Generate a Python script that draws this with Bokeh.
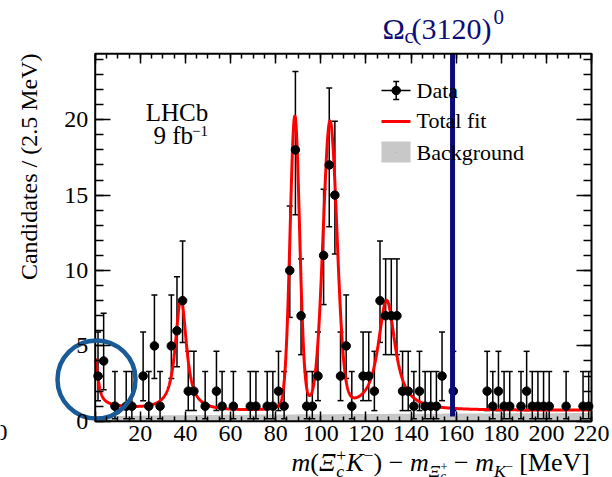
import numpy as np
from bokeh.plotting import figure
from bokeh.models import Range1d, LinearAxis, FixedTicker
from bokeh.core.properties import value
from bokeh.embed import file_html
from bokeh.resources import INLINE

# ---------------- data ----------------
bin_centers = [1.25, 3.75, 8.75, 13.75, 16.25, 21.25, 23.75, 26.25, 28.75, 33.75,
               36.25, 38.75, 41.25, 43.75, 48.75, 53.75, 56.25, 61.25, 68.75, 71.25,
               76.25, 78.75, 81.25, 83.75, 86.25, 88.75, 91.25, 93.75, 96.25, 98.75,
               101.25, 103.75, 106.25, 108.75, 111.25, 113.75, 118.75, 121.25, 123.75, 126.25,
               128.75, 131.25, 133.75, 136.25, 138.75, 141.25, 143.75, 146.25, 148.75, 151.25,
               153.75, 158.75, 173.75, 176.25, 178.75, 181.25, 183.75, 188.75, 191.25, 193.75,
               196.25, 198.75, 201.25, 208.75, 216.25, 218.75]
counts = [3, 4, 1, 1, 1, 3, 1, 5, 1, 5,
          6, 8, 2, 2, 1, 2, 1, 1, 1, 1,
          1, 1, 2, 1, 10, 18, 7, 1, 1, 3,
          11, 17, 15, 3, 5, 1, 3, 3, 2, 8,
          7, 7, 7, 2, 2, 1, 2, 1, 1, 1,
          3, 2, 2, 1, 2, 1, 1, 1, 2, 1,
          1, 1, 1, 1, 1, 1]

# error-bar ends per count value
err_count = [1, 2, 3, 4, 5, 6, 7, 8, 10, 11, 15, 17, 18]
err_low = [0.17, 0.71, 1.37, 2.09, 2.84, 3.62, 4.42, 5.23, 6.89, 7.74, 11.1, 12.9, 13.7]
err_high = [3.30, 4.64, 5.92, 7.16, 8.38, 9.58, 10.77, 11.95, 14.27, 15.38, 19.9, 22.1, 23.2]

# fit-model parameters
peak_mass = [0.0, 38.0, 88.5, 104.1, 129.2]
peak_height = [3.0, 7.4, 19.4, 19.0, 7.3]
peak_gamma = [1.5, 2.6, 0.25, 0.4, 4.2]
peak_sigma = [0.2, 0.8, 2.0, 2.9, 1.0]
bkg_pars = [0.30, 0.25]            # combinatorial background level
other_pars = [0.18, 0.60, 22.0]    # other fitted component
omega_mass = 158.4

x_ticks = [0, 20, 40, 60, 80, 100, 120, 140, 160, 180, 200, 220]
y_ticks = [0, 5, 10, 15, 20]

# ---------------- layout ----------------
W, H = 612, 477
FL, FR, FT, FB = 94.7, 591.0, 53.3, 420.8   # plot box in pixels
XMIN, XMAX = 0.0, 220.0
YMIN, YMAX = 0.0, 24.37
FONT = "Liberation Serif"
NAVY = "#0c0c78"
GRAY = "#c8c8c8"
MID = 0.3375   # distance baseline -> em-box middle, in em


def dx(px):
    return XMIN + (px - FL) * (XMAX - XMIN) / (FR - FL)


def dy(py):
    return YMIN + (FB - py) * (YMAX - YMIN) / (FB - FT)


# the frame covers the whole canvas; the plot box is drawn with fixed-location axes
p = figure(width=W, height=H, x_range=Range1d(dx(0), dx(W)), y_range=Range1d(dy(H), dy(0)),
           output_backend="svg", toolbar_location=None,
           x_axis_location=None, y_axis_location=None, min_border=0)
p.min_border_left = p.min_border_right = p.min_border_top = p.min_border_bottom = 0
p.xgrid.visible = False
p.ygrid.visible = False
p.outline_line_color = None
p.background_fill_color = "white"
p.border_fill_color = "white"


def make_axis(loc, ticks, minor, tin, tmin, labels=True, standoff=6):
    ax = LinearAxis(fixed_location=loc)
    ax.ticker = FixedTicker(ticks=ticks, minor_ticks=minor)
    ax.major_tick_in = tin
    ax.major_tick_out = 0
    ax.minor_tick_in = tmin
    ax.minor_tick_out = 0
    ax.major_tick_line_width = 1.5
    ax.minor_tick_line_width = 1.5
    ax.axis_line_color = None
    ax.major_tick_line_color = "black"
    ax.minor_tick_line_color = "black"
    ax.major_label_text_font = FONT
    ax.major_label_text_color = "black"
    ax.major_label_text_font_size = "24px"
    ax.major_label_standoff = standoff
    if not labels:
        ax.major_label_overrides = {t: "" for t in ticks}
    return ax


x_minor = list(range(0, 221, 5))
y_minor = list(range(0, 25))
bottom = make_axis(YMIN, x_ticks, x_minor, 10, 5, True, 5)
bottom.major_label_overrides = {0: ""}
p.add_layout(bottom, "below")
left = make_axis(XMIN, y_ticks, y_minor, 15, 8, True, 7)
p.add_layout(left, "left")
top = make_axis(YMAX, x_ticks, x_minor, 10, 5, False)
p.add_layout(top, "above")
right = make_axis(XMAX, y_ticks, y_minor, 15, 8, False)
p.add_layout(right, "right")

# ---------------- fit model ----------------
step = 0.05
grid = np.arange(-60.0, 280.0 + step / 2, step)


def voigt(m, g, s):
    lor = 1.0 / (1.0 + ((grid - m) / g) ** 2)
    n = int(6 * s / step) + 1
    k = np.arange(-n, n + 1) * step
    gau = np.exp(-0.5 * (k / s) ** 2)
    gau /= gau.sum()
    v = np.convolve(lor, gau, mode="same")
    return v / v.max()


mask = (grid >= XMIN) & (grid <= XMAX)
xs = grid[mask]
bkg = bkg_pars[0] + bkg_pars[1] * np.sqrt(xs / XMAX)
other = other_pars[0] + other_pars[1] * np.exp(-xs / other_pars[2])
total = bkg + other
for m, h, g, s in zip(peak_mass, peak_height, peak_gamma, peak_sigma):
    total = total + h * voigt(m, g, s)[mask]

p.varea(x=xs, y1=np.zeros_like(xs), y2=bkg, fill_color=GRAY)

# ---------------- data points ----------------
lo = [err_low[err_count.index(c)] for c in counts]
hi = [err_high[err_count.index(c)] for c in counts]
p.segment(x0=bin_centers, y0=lo, x1=bin_centers, y1=hi, line_color="black", line_width=1.5)
p.scatter(x=bin_centers, y=lo, marker="dash", size=6, line_color="black", line_width=1.5)
p.scatter(x=bin_centers, y=hi, marker="dash", size=6, line_color="black", line_width=1.5)

p.line(xs, total, line_color="#ff0000", line_width=3)
p.scatter(x=bin_centers, y=counts, marker="circle", size=8.5, fill_color="black", line_color="black")

# Omega_c(3120) marker line
p.segment(x0=[omega_mass], y0=[dy(416)], x1=[omega_mass], y1=[YMAX], line_color=NAVY, line_width=5)

# plot box
p.quad(left=[XMIN], right=[XMAX], bottom=[YMIN], top=[YMAX], fill_color=None,
       line_color="black", line_width=2)

# ---------------- legend (drawn by hand) ----------------
lx0, lx1, lxc = dx(381), dx(410), dx(395.7)
p.segment(x0=[lx0], y0=[dy(90)], x1=[lx1], y1=[dy(90)], line_color="black", line_width=1.5)
p.segment(x0=[lxc], y0=[dy(81)], x1=[lxc], y1=[dy(99)], line_color="black", line_width=1.5)
p.scatter(x=[lxc, lxc], y=[dy(81), dy(99)], marker="dash", size=6, line_color="black", line_width=1.5)
p.scatter(x=[lxc], y=[dy(90)], marker="circle", size=8.5, fill_color="black", line_color="black")
p.segment(x0=[lx0], y0=[dy(121)], x1=[lx1], y1=[dy(121)], line_color="#ff0000", line_width=3)
p.quad(left=[lx0], right=[lx1], bottom=[dy(162)], top=[dy(141)], fill_color=GRAY, line_color=None)
p.scatter(x=[lxc], y=[dy(151.5)], marker="dot", size=3, line_color="#555555")


def txt(s, px, pyc, size, style="normal", align="left", color="black", angle=0.0):
    """pyc = pixel row of the em-box middle of the text"""
    p.text(x=[dx(px)], y=[dy(pyc)], text=[s], text_font=value(FONT),
           text_font_size=value(f"{size}px"), text_font_style=value(style),
           text_align=value(align), text_baseline=value("middle"),
           text_color=value(color), angle=angle)


txt("Data", 416, 90, 22)
txt("Total fit", 416, 120, 22)
txt("Background", 416, 151.5, 22)

# LHCb label
txt("LHCb", 176.5, 111.5, 25, align="center")
txt("9 fb", 153, 134.5, 25)
txt("\u22121", 191.5, 130.5, 15)

# Omega_c(3120)^0 label
txt("\u03a9", 382, 28.4, 30, color=NAVY)
txt("c", 404, 35.5, 21, color=NAVY)
txt("(3120)", 411, 28.4, 30, color=NAVY)
txt("0", 493, 16, 21, color=NAVY)

# y-axis title
txt("Candidates / (2.5 MeV)", 28, 53, 24, align="right", angle=np.pi / 2)

# x-axis title, laid out piece by piece (advance widths in em, Times metrics)
EM = 26
BL = 470.5
pieces = [  # text, size factor, style, baseline offset (em), advance (em)
    ("m", 1.0, "italic", 0.0, 0.722),
    ("(", 1.0, "normal", 0.0, 0.333),
    ("\u039e", 1.0, "italic", 0.0, 0.667),
    ("+", 0.68, "normal", -0.38, 0.0),
    ("c", 0.68, "italic", 0.22, 0.384),
    ("K", 1.0, "italic", 0.0, 0.667),
    ("\u2212", 0.68, "normal", -0.38, 0.384),
    (")", 1.0, "normal", 0.0, 0.333 + 0.25),
    ("\u2212", 1.0, "normal", 0.0, 0.564 + 0.25),
    ("m", 1.0, "italic", 0.0, 0.722),
    ("\u039e", 0.68, "italic", 0.22, 0.454),
    ("+", 0.48, "normal", 0.02, 0.0),
    ("c", 0.48, "italic", 0.36, 0.27 + 0.25),
    ("\u2212", 1.0, "normal", 0.0, 0.564 + 0.25),
    ("m", 1.0, "italic", 0.0, 0.722),
    ("K", 0.68, "italic", 0.22, 0.454),
    ("\u2212", 0.48, "normal", 0.0, 0.27 + 0.25),
    ("[MeV]", 1.0, "normal", 0.0, 2.72),
]
cx = 291.0
for s, f, st, off, adv in pieces:
    size = round(EM * f, 1)
    txt(s, cx, BL + off * EM - MID * size, size, style=st)
    cx += adv * EM

# fragment of a neighbouring panel at the left edge
txt("0", -5, 432, 24)

# highlight circle near threshold
p.scatter(x=[dx(96)], y=[dy(379)], marker="circle", size=78, fill_color=None,
          line_color="#1a5a96", line_width=4.5)

open("out.html", "w").write(file_html(p, INLINE))
